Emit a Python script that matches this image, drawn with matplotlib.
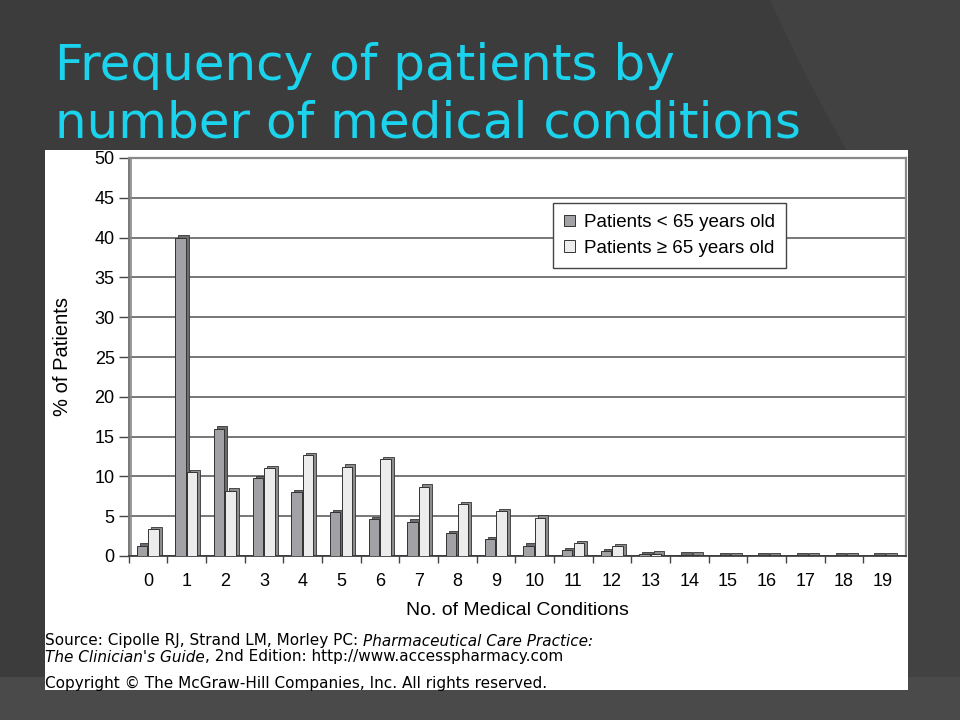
import matplotlib
matplotlib.use("Agg")
import matplotlib.pyplot as plt
from matplotlib.patches import Polygon, Rectangle
import numpy as np

# number of medical conditions (0..19)
conditions = list(range(20))
# % of patients
under_65 = [1.3, 40.0, 16.0, 9.8, 8.0, 5.5, 4.6, 4.3, 2.9, 2.1,
            1.3, 0.7, 0.6, 0.2, 0.15, 0.05, 0.05, 0.05, 0.05, 0.05]
over_65 = [3.4, 10.5, 8.2, 11.0, 12.7, 11.2, 12.2, 8.7, 6.5, 5.6,
           4.8, 1.6, 1.2, 0.3, 0.15, 0.05, 0.05, 0.05, 0.05, 0.05]
y_ticks = list(range(0, 51, 5))
labels = ["Patients < 65 years old", "Patients \u2265 65 years old"]

title_lines = ["Frequency of patients by", "number of medical conditions"]
src1 = ("Source: Cipolle RJ, Strand LM, Morley PC: ", "Pharmaceutical Care Practice:")
src2 = ("The Clinician's Guide", ", 2nd Edition: http://www.accesspharmacy.com")
copyright_txt = "Copyright \u00a9 The McGraw-Hill Companies, Inc. All rights reserved."

W, H = 960, 720
fig = plt.figure(figsize=(W / 100, H / 100), dpi=100)
fig.patch.set_facecolor("#3c3c3c")

# slide decoration (pixel coords, y down)
bg = fig.add_axes([0, 0, 1, 1])
bg.set_xlim(0, W)
bg.set_ylim(H, 0)
bg.axis("off")
cy = np.linspace(0, H, 60)
cx = np.minimum(770 + 0.45 * cy + 0.0004 * cy ** 2, 900)
pts = list(zip(cx, cy)) + [(W + 400, H), (W + 400, 0)]
bg.add_patch(Polygon(pts, closed=True, color="#424242", lw=0))
bg.add_patch(Rectangle((0, 677), W, H - 677, color="#4a4a4a", lw=0))
bg.add_patch(Rectangle((45, 150), 863, 540, color="white", lw=0))

for i, line in enumerate(title_lines):
    bg.text(55, 80 + 58 * i, line, color="#1bd3ec", fontsize=36, va="baseline")

# chart axes
ax = fig.add_axes([128.6 / W, 1 - 556 / H, (906 - 128.6) / W, (556 - 158) / H])
ax.set_facecolor("white")
x = np.array(conditions)
w = 0.27
dx, dh = 0.08, 0.3
xu = x - 0.16
xo = x + 0.14
ax.bar(xu + dx, np.array(under_65) + dh, w, color="#6c6c6e", edgecolor="#333333", lw=0.6, zorder=2)
b1 = ax.bar(xu, under_65, w, color="#a2a2a6", edgecolor="#333333", lw=0.7, zorder=3, label=labels[0])
ax.bar(xo + dx, np.array(over_65) + dh, w, color="#8c8c8c", edgecolor="#333333", lw=0.6, zorder=2)
b2 = ax.bar(xo, over_65, w, color="#ececec", edgecolor="#333333", lw=0.7, zorder=3, label=labels[1])

ax.set_xlim(-0.5, 19.6)
ax.set_ylim(0, 50)
ax.set_yticks(y_ticks)
ax.yaxis.grid(True, color="#777777", lw=1.4)
ax.set_axisbelow(True)
ax.set_xticks(x)
ax.set_xticklabels([str(c) for c in conditions])
ax.set_xticks(x - 0.5, minor=True)
ax.tick_params(axis="x", which="major", length=0, pad=12, labelsize=13)
ax.tick_params(axis="x", which="minor", length=5, width=1, color="#444444")
ax.tick_params(axis="y", length=7, width=1, color="#444444", labelsize=13, pad=3)
for lab in ax.get_xticklabels() + ax.get_yticklabels():
    lab.set_family("Liberation Sans")
for side in ["top", "right"]:
    ax.spines[side].set_color("#888888")
    ax.spines[side].set_linewidth(1.6)
ax.spines["left"].set_color("#777777")
ax.spines["left"].set_linewidth(1.4)
ax.spines["bottom"].set_color("#333333")
ax.spines["bottom"].set_linewidth(1.2)
ax.axvline(-0.45, color="#888888", lw=1.2, zorder=1)

ax.set_xlabel("No. of Medical Conditions", fontsize=14, family="Liberation Sans", labelpad=9)
ax.set_ylabel("% of Patients", fontsize=14.5, family="Liberation Sans", labelpad=16)

leg = ax.legend(handles=[b1, b2], loc="upper right", bbox_to_anchor=(0.846, 0.887),
                borderaxespad=0, fancybox=False, framealpha=1, edgecolor="#444444",
                handlelength=0.55, handleheight=0.55, handletextpad=0.5, borderpad=0.6,
                prop={"family": "Liberation Sans", "size": 13.5}, labelspacing=0.45)
leg.get_frame().set_linewidth(1.0)

# source lines
fs = 11
t1 = bg.text(45, 641, src1[0], fontsize=fs, va="center", color="black")
bg.annotate(src1[1], xy=(1, 0.5), xycoords=t1, va="center", fontsize=fs, style="italic")
t2 = bg.text(45, 657, src2[0], fontsize=fs, va="center", style="italic")
bg.annotate(src2[1], xy=(1, 0.5), xycoords=t2, va="center", fontsize=fs)
bg.text(45, 683, copyright_txt, fontsize=fs, va="center")

fig.savefig("out.png", dpi=100, facecolor=fig.get_facecolor())
